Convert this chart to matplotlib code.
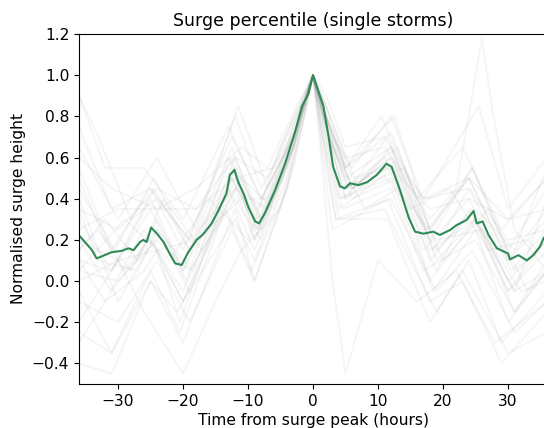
import matplotlib
matplotlib.use("Agg")
import matplotlib.pyplot as plt

# Green percentile curve (hours, normalised height)
green_t = [-35.8, -35.1, -34.0, -33.3, -32.5, -31.0, -29.4, -28.4, -27.6, -26.6, -26.1, -25.6,
           -24.9, -24.0, -23.0, -22.0, -21.2, -20.2, -19.2, -17.9, -16.9, -15.6, -14.6, -13.3,
           -12.8, -12.1, -11.5, -10.7, -9.95, -8.9, -8.3, -7.4, -5.85, -4.3, -2.8, -1.7, -0.7, 0.0,
           1.6, 2.4, 3.1, 4.15, 4.9, 5.7, 7.0, 8.3, 9.8, 11.3, 12.1, 13.4, 14.7, 15.7, 17.0, 18.5,
           19.5, 21.1, 22.1, 23.6, 24.7, 25.2, 26.1, 27.0, 28.3, 30.0, 30.3, 31.6, 32.9, 33.9,
           34.9, 35.5]
green_v = [0.215, 0.19, 0.15, 0.11, 0.12, 0.14, 0.147, 0.159, 0.15, 0.19, 0.20, 0.19,
           0.26, 0.23, 0.19, 0.13, 0.086, 0.078, 0.14, 0.20, 0.227, 0.28, 0.34, 0.426,
           0.515, 0.54, 0.48, 0.426, 0.36, 0.29, 0.28, 0.33, 0.44, 0.57, 0.72, 0.85, 0.91, 1.0,
           0.85, 0.70, 0.555, 0.46, 0.45, 0.475, 0.466, 0.48, 0.515, 0.57, 0.555, 0.44, 0.31, 0.24,
           0.23, 0.24, 0.224, 0.248, 0.272, 0.296, 0.34, 0.28, 0.29, 0.224, 0.159, 0.134, 0.105,
           0.126, 0.10, 0.126, 0.167, 0.21]

# Individual storms: (hour, normalised height) read at turning points
a01 = [(-36,0.30),(-31,0.05),(-25,0.35),(-19.5,0.00),(-13,0.60),(-8,0.25),(-3,0.65),(-1.5,0.85),(0,1.0),(2,0.70),(4.5,0.40),(11,0.60),(17,0.15),(24,0.40),(30,0.00),(36,0.20)]
a02 = [(-36,0.10),(-32,-0.10),(-26,0.25),(-20,-0.10),(-12,0.45),(-9,0.20),(-4,0.55),(-1,0.90),(0,1.0),(1.5,0.75),(4,0.35),(12.5,0.55),(18,0.00),(25,0.30),(31,-0.15),(36,0.05)]
a03 = [(-36,0.65),(-30,0.30),(-24,0.60),(-18,0.25),(-11.5,0.85),(-7,0.45),(-2.5,0.75),(0,1.0),(2,0.80),(5,0.55),(10.5,0.80),(16,0.40),(23,0.65),(29,0.25),(36,0.50)]
a04 = [(-36,-0.25),(-31,-0.35),(-25,0.05),(-20.5,-0.25),(-13.5,0.35),(-9.5,0.05),(-4,0.45),(-1,0.85),(0,1.0),(1,0.80),(3.5,0.30),(12,0.40),(19,-0.05),(24.5,0.15),(31,-0.25),(36,-0.10)]
a05 = [(-36,0.45),(-30.5,0.15),(-24.5,0.50),(-19,0.15),(-12.5,0.65),(-8.5,0.30),(-3,0.70),(0,1.0),(2.5,0.70),(5.5,0.45),(11.5,0.70),(17.5,0.25),(24,0.50),(30,0.10),(36,0.30)]
a06 = [(-36,0.05),(-29,0.30),(-22,0.10),(-16,0.40),(-10,0.20),(-5,0.65),(-2,0.85),(0,1.0),(2,0.85),(7,0.45),(14,0.55),(20,0.10),(27,0.35),(33,-0.05),(36,0.05)]
a07 = [(-36,0.90),(-32,0.55),(-26,0.55),(-20,0.30),(-13,0.75),(-8,0.40),(-3,0.70),(0,1.0),(3,0.70),(6,0.55),(12,0.80),(17,0.40),(25.5,0.85),(30,0.35),(36,0.60)]
a08 = [(-36,-0.40),(-31,-0.45),(-25,0.00),(-21,-0.15),(-12,0.30),(-9,0.10),(-4,0.50),(-1,0.90),(0,1.0),(1.5,0.70),(4,0.30),(11,0.35),(19,-0.15),(23,0.05),(30,-0.35),(36,-0.25)]
a09 = [(-36,0.20),(-30,0.10),(-25,0.40),(-20,0.05),(-12.5,0.60),(-8,0.30),(-3,0.65),(0,1.0),(2,0.75),(5,0.40),(12,0.65),(18.5,0.15),(24,0.45),(30.5,0.05),(36,0.25)]
a10 = [(-36,0.35),(-33,0.10),(-27,0.05),(-24,0.25),(-19,-0.05),(-12,0.50),(-9,0.25),(-4,0.60),(0,1.0),(2,0.80),(5,0.45),(13,0.65),(19,0.10),(25,0.30),(31,-0.05),(36,0.40)]
a11 = [(-36,0.00),(-30,0.10),(-24,0.15),(-18,0.20),(-11,0.40),(-7,0.40),(-3,0.75),(0,1.0),(3,0.65),(8,0.35),(13,0.45),(19,0.20),(26,0.25),(32,-0.05),(36,0.00)]
a12 = [(-36,0.55),(-31,0.15),(-25,0.45),(-19,0.20),(-12,0.80),(-8,0.45),(-2.5,0.75),(0,1.0),(2,0.85),(5,0.55),(12.5,0.80),(18,0.25),(24.5,0.55),(30,0.15),(36,0.45)]
a13 = [(-36,-0.10),(-30,-0.20),(-24,0.10),(-19,-0.20),(-12.5,0.25),(-9,0.00),(-3,0.55),(-1,0.85),(0,1.0),(1.5,0.65),(3.5,0.30),(11.5,0.30),(18,-0.20),(24,0.10),(29,-0.30),(36,-0.05)]
a14 = [(-36,0.15),(-33,0.25),(-29,0.05),(-24,0.25),(-18.5,0.05),(-12,0.60),(-8.5,0.35),(-3,0.70),(0,1.0),(2,0.75),(5,0.50),(12,0.65),(18,0.15),(25,0.30),(31,-0.05),(36,0.05)]
a15 = [(-36,0.35),(-30,0.25),(-24,0.45),(-18,0.35),(-12,0.60),(-7,0.50),(-3,0.80),(0,1.0),(2,0.85),(5,0.60),(11,0.65),(17,0.40),(24,0.45),(30,0.20),(36,0.25)]
a16 = [(-36,-0.30),(-32,-0.10),(-26,0.05),(-24,0.15),(-20,-0.10),(-13,0.45),(-9,0.15),(-3.5,0.60),(0,1.0),(1.5,0.70),(4,0.40),(12,0.50),(18.5,-0.05),(25,0.25),(30,-0.20),(36,0.05)]
a17 = [(-36,0.10),(-31,0.05),(-24.5,0.45),(-19,0.15),(-12,0.55),(-8,0.30),(-3,0.70),(0,1.0),(2.5,0.75),(6,0.45),(12,0.60),(18,0.20),(24.5,0.55),(31,0.05),(36,0.20)]
a18 = [(-36,0.50),(-32,0.20),(-28,0.05),(-24,0.30),(-20,0.05),(-12.5,0.50),(-8.5,0.25),(-3,0.65),(0,1.0),(2,0.75),(4.5,0.45),(12,0.55),(19,0.05),(24,0.35),(30,-0.05),(36,0.20)]
a19 = [(-36,0.05),(-30,0.00),(-24,0.20),(-19,0.05),(-12,0.40),(-8,0.20),(-3,0.70),(0,1.0),(2,0.75),(6,0.45),(12,0.60),(18,0.30),(22,0.45),(24.5,0.90),(26,1.18),(27.5,0.85),(31,0.25),(36,0.05)]
a20 = [(-36,0.75),(-31,0.35),(-25,0.45),(-20,0.15),(-12.5,0.70),(-8,0.40),(-3,0.70),(0,1.0),(2,0.80),(5,0.55),(12,0.72),(18,0.25),(24,0.50),(30,0.10),(36,0.35)]
a21 = [(-36,-0.05),(-31,-0.35),(-25,0.00),(-20,-0.30),(-12,0.35),(-9,0.00),(-4,0.45),(-1,0.85),(0,1.0),(1.5,0.60),(3,0.25),(11.5,0.40),(18,-0.10),(23,0.00),(29,-0.40),(36,-0.15)]
a22 = [(-36,0.25),(-30,0.35),(-24,0.35),(-18,0.35),(-12,0.50),(-6,0.55),(-2,0.85),(0,1.0),(2,0.80),(6,0.50),(12,0.55),(18,0.35),(24,0.40),(30,0.30),(36,0.35)]
a23 = [(-36,0.20),(-31,-0.05),(-25,0.20),(-20,-0.05),(-12.5,0.50),(-8.5,0.25),(-3,0.65),(0,1.0),(2,0.75),(5,0.40),(12.5,0.58),(18,0.10),(24.5,0.35),(30,-0.05),(36,0.15)]
a24 = [(-36,0.60),(-31,0.45),(-24,0.35),(-18,0.45),(-11,0.65),(-7,0.55),(-2.5,0.85),(0,1.0),(2,0.90),(5,0.65),(11,0.70),(17,0.40),(24,0.50),(30,0.30),(36,0.50)]
a25 = [(-36,-0.20),(-30,0.10),(-26,-0.15),(-20,-0.45),(-15,-0.10),(-11,0.15),(-5,0.35),(-1.5,0.80),(0,1.0),(1,0.70),(3,0.00),(5,-0.45),(10,0.10),(16,-0.10),(22,0.05),(28,-0.30),(36,-0.10)]
a26 = [(-36,0.90),(-33,0.70),(-28,0.30),(-24,0.40),(-19,0.20),(-12,0.45),(-7,0.35),(-3,0.75),(0,1.0),(2.5,0.70),(6,0.40),(13,0.50),(19,0.15),(25,0.35),(31,0.15),(36,0.55)]
a27 = [(-36,0.40),(-30,-0.10),(-24.5,0.20),(-20.5,-0.20),(-12,0.55),(-9,0.20),(-4,0.55),(0,1.0),(2,0.70),(4.5,0.35),(12,0.45),(17,0.05),(25,0.20),(31,-0.15),(36,0.10)]
a28 = [(-36,0.15),(-32,0.30),(-27,0.10),(-23,0.40),(-17,0.15),(-11,0.50),(-6,0.35),(-2,0.80),(0,1.0),(2,0.80),(6,0.45),(10,0.55),(15,0.35),(21,0.45),(27,0.15),(33,0.20),(36,0.10)]
storms = [a01, a02, a03, a04, a05, a06, a07, a08, a09, a10, a11, a12, a13, a14,
          a15, a16, a17, a18, a19, a20, a21, a22, a23, a24, a25, a26, a27, a28]

x_ticks = [-30, -20, -10, 0, 10, 20, 30]
y_ticks = [-0.4, -0.2, 0.0, 0.2, 0.4, 0.6, 0.8, 1.0, 1.2]

fig = plt.figure(figsize=(5.44, 4.28), dpi=100)
ax = fig.add_axes([79 / 544, 44 / 428, 468 / 544, 350 / 428])

for s in storms:
    ts = [p[0] for p in s]
    vs = [p[1] for p in s]
    ax.plot(ts, vs, color="gray", alpha=0.08, lw=1.3)
ax.plot(green_t, green_v, color="#2e8b57", lw=1.5)

ax.set_xlim(-36, 36)
ax.set_ylim(-0.5, 1.2)
ax.set_xticks(x_ticks)
ax.set_yticks(y_ticks)
ax.tick_params(labelsize=11.2)
ax.set_title("Surge percentile (single storms)", fontsize=12.5)
ax.set_xlabel("Time from surge peak (hours)", fontsize=11.2, labelpad=3)
ax.set_ylabel("Normalised surge height", fontsize=11.2)
ax.spines["right"].set_visible(False)

fig.savefig("out.png", dpi=100)
